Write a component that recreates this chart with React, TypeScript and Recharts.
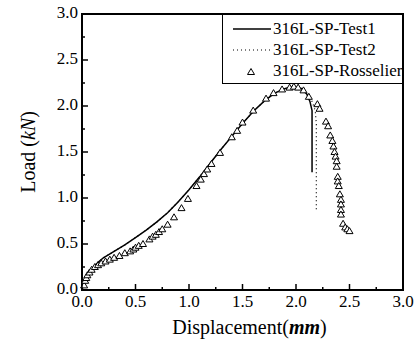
import React from "react";
import {
  ComposedChart,
  Line,
  Scatter,
  XAxis,
  YAxis,
  Label,
  Legend,
  ReferenceArea,
} from "recharts";

// measured curves, displacement (mm) vs load (kN)
const test1Disp = [0, 0.02, 0.05, 0.1, 0.15, 0.2, 0.3, 0.4, 0.5, 0.6, 0.7, 0.8, 0.9, 1.0, 1.1, 1.2, 1.3, 1.4, 1.5, 1.6, 1.7, 1.8, 1.9, 1.98, 2.05, 2.1, 2.13, 2.15, 2.15];
const test1Load = [0, 0.08, 0.16, 0.24, 0.3, 0.35, 0.42, 0.49, 0.57, 0.65, 0.74, 0.84, 0.96, 1.09, 1.23, 1.38, 1.53, 1.67, 1.81, 1.94, 2.05, 2.14, 2.19, 2.21, 2.19, 2.13, 2.05, 1.95, 1.28];

const test2Disp = [0, 0.02, 0.05, 0.1, 0.15, 0.2, 0.3, 0.4, 0.5, 0.6, 0.7, 0.8, 0.9, 1.0, 1.1, 1.2, 1.3, 1.4, 1.5, 1.6, 1.7, 1.8, 1.9, 1.98, 2.05, 2.1, 2.15, 2.18, 2.19, 2.19];
const test2Load = [0, 0.08, 0.16, 0.24, 0.3, 0.35, 0.42, 0.49, 0.57, 0.65, 0.74, 0.84, 0.96, 1.09, 1.23, 1.38, 1.53, 1.67, 1.81, 1.94, 2.05, 2.14, 2.19, 2.21, 2.2, 2.15, 2.05, 1.95, 1.8, 0.85];

// Rousselier simulation points
const rossDisp = [0.02, 0.03, 0.04, 0.05, 0.07, 0.09, 0.12, 0.15, 0.18, 0.22, 0.26, 0.3, 0.35, 0.4, 0.45, 0.48, 0.5, 0.53, 0.57, 0.63, 0.66, 0.69, 0.72, 0.75, 0.8, 0.86, 0.93, 0.99, 1.07, 1.11, 1.14, 1.17, 1.21, 1.29, 1.4, 1.45, 1.5, 1.6, 1.72, 1.79, 1.87, 1.94, 1.98, 2.02, 2.07, 2.12, 2.2, 2.22, 2.28, 2.3, 2.32, 2.34, 2.35, 2.36, 2.37, 2.38, 2.38, 2.39, 2.39, 2.4, 2.41, 2.42, 2.42, 2.42, 2.42, 2.44, 2.46, 2.48, 2.5];
const rossLoad = [0.05, 0.1, 0.13, 0.16, 0.19, 0.22, 0.25, 0.27, 0.29, 0.31, 0.33, 0.35, 0.37, 0.4, 0.42, 0.44, 0.46, 0.48, 0.5, 0.55, 0.58, 0.6, 0.63, 0.66, 0.71, 0.79, 0.89, 0.99, 1.13, 1.2, 1.26, 1.31, 1.37, 1.49, 1.66, 1.73, 1.82, 1.95, 2.08, 2.14, 2.18, 2.2, 2.21, 2.2, 2.17, 2.1, 2.02, 1.97, 1.83, 1.78, 1.68, 1.62, 1.56, 1.5, 1.45, 1.4, 1.34, 1.23, 1.18, 1.13, 1.04, 0.98, 0.93, 0.87, 0.82, 0.72, 0.68, 0.66, 0.64];

const xTicks = [0, 0.25, 0.5, 0.75, 1, 1.25, 1.5, 1.75, 2, 2.25, 2.5, 2.75, 3];
const yTicks = [0, 0.25, 0.5, 0.75, 1, 1.25, 1.5, 1.75, 2, 2.25, 2.5, 2.75, 3];

const seriesNames = ["316L-SP-Test1", "316L-SP-Test2", "316L-SP-Rosselier"];

const toPoints = (xs: number[], ys: number[]) => xs.map((x, i) => ({ x, y: ys[i] }));
const test1 = toPoints(test1Disp, test1Load);
const test2 = toPoints(test2Disp, test2Load);
const ross = toPoints(rossDisp, rossLoad);

const FONT = "'Liberation Serif', 'Times New Roman', serif";
const MARGIN = 4;

const isMajor = (v: number) => Math.abs(v * 2 - Math.round(v * 2)) < 1e-6;

const XTick = (props: any) => {
  const { x, y, payload } = props;
  const axisY = y - MARGIN;
  const major = isMajor(payload.value);
  return (
    <g>
      <line x1={x} x2={x} y1={axisY} y2={axisY - (major ? 6 : 3)} stroke="#000" strokeWidth={1.5} />
      {major && (
        <text x={x} y={axisY + 4} dy="0.75em" textAnchor="middle" fontFamily={FONT} fontSize={17} fill="#000">
          {payload.value.toFixed(1)}
        </text>
      )}
    </g>
  );
};

const YTick = (props: any) => {
  const { x, y, payload } = props;
  const axisX = x + MARGIN;
  const major = isMajor(payload.value);
  return (
    <g>
      <line x1={axisX} x2={axisX + (major ? 6 : 3)} y1={y} y2={y} stroke="#000" strokeWidth={1.5} />
      {major && (
        <text x={axisX - 4} y={y} dy="0.25em" textAnchor="end" fontFamily={FONT} fontSize={17} fill="#000">
          {payload.value.toFixed(1)}
        </text>
      )}
    </g>
  );
};

const Triangle = (props: any) => {
  const { cx, cy } = props;
  if (cx == null || cy == null) return null;
  return (
    <path
      d={`M${cx},${cy - 3.5} L${cx + 3.5},${cy + 2.5} L${cx - 3.5},${cy + 2.5} Z`}
      fill="#fff"
      stroke="#000"
      strokeWidth={1}
    />
  );
};

const XTitle = ({ viewBox }: any) => (
  <text x={viewBox.x + viewBox.width / 2 + 7} y={viewBox.y + 44} textAnchor="middle" fontFamily={FONT} fontSize={20} fill="#000">
    Displacement(<tspan fontStyle="italic" fontWeight="bold">mm</tspan>)
  </text>
);

const YTitle = ({ viewBox }: any) => {
  const cx = viewBox.x + 13;
  const cy = viewBox.y + viewBox.height / 2;
  return (
    <text x={cx} y={cy} transform={`rotate(-90 ${cx} ${cy})`} textAnchor="middle" fontFamily={FONT} fontSize={20} fill="#000">
      Load (<tspan fontStyle="italic">kN</tspan>)
    </text>
  );
};

const LegendBox = () => (
  <div
    style={{
      border: "1px solid #000",
      background: "#fff",
      fontFamily: FONT,
      fontSize: 17,
      lineHeight: "21px",
      padding: "3px 0 2px 0",
      whiteSpace: "nowrap",
      overflow: "hidden",
    }}
  >
    {seriesNames.map((name, i) => (
      <div key={name} style={{ display: "flex", alignItems: "center", height: 21 }}>
        <svg width={50} height={21} style={{ flexShrink: 0 }}>
          {i === 0 && <line x1={10} x2={48} y1={11} y2={11} stroke="#000" strokeWidth={1.5} />}
          {i === 1 && <line x1={10} x2={48} y1={11} y2={11} stroke="#000" strokeWidth={1.2} strokeDasharray="1 3" />}
          {i === 2 && <Triangle cx={28} cy={12} />}
        </svg>
        <span>{name}</span>
      </div>
    ))}
  </div>
);

export default function App() {
  return (
    <div style={{ position: "absolute", left: 0, top: 0 }}>
      <ComposedChart width={415} height={345} margin={{ top: 14, right: 12, bottom: 0, left: 22 }}>
        <XAxis
          dataKey="x"
          type="number"
          domain={[0, 3]}
          ticks={xTicks}
          height={55}
          axisLine={false}
          tickLine={false}
          tickSize={0}
          tickMargin={MARGIN}
          tick={<XTick />}
          interval={0}
        >
          <Label content={<XTitle />} />
        </XAxis>
        <YAxis
          dataKey="y"
          type="number"
          domain={[0, 3]}
          ticks={yTicks}
          width={60}
          axisLine={false}
          tickLine={false}
          tickSize={0}
          tickMargin={MARGIN}
          tick={<YTick />}
          interval={0}
        >
          <Label content={<YTitle />} />
        </YAxis>
        <ReferenceArea x1={0} x2={3} y1={0} y2={3} fill="none" stroke="#000" strokeWidth={2} />
        <Line data={test2} dataKey="y" stroke="#000" strokeWidth={1.2} strokeDasharray="1 3" dot={false} isAnimationActive={false} />
        <Line data={test1} dataKey="y" stroke="#000" strokeWidth={1.5} dot={false} isAnimationActive={false} />
        <Scatter data={ross} dataKey="y" shape={<Triangle />} isAnimationActive={false} />
        <Legend
          content={<LegendBox />}
          layout="vertical"
          align="center"
          verticalAlign="middle"
          wrapperStyle={{ position: "absolute", left: 222, top: 14, width: 181 }}
        />
      </ComposedChart>
    </div>
  );
}
